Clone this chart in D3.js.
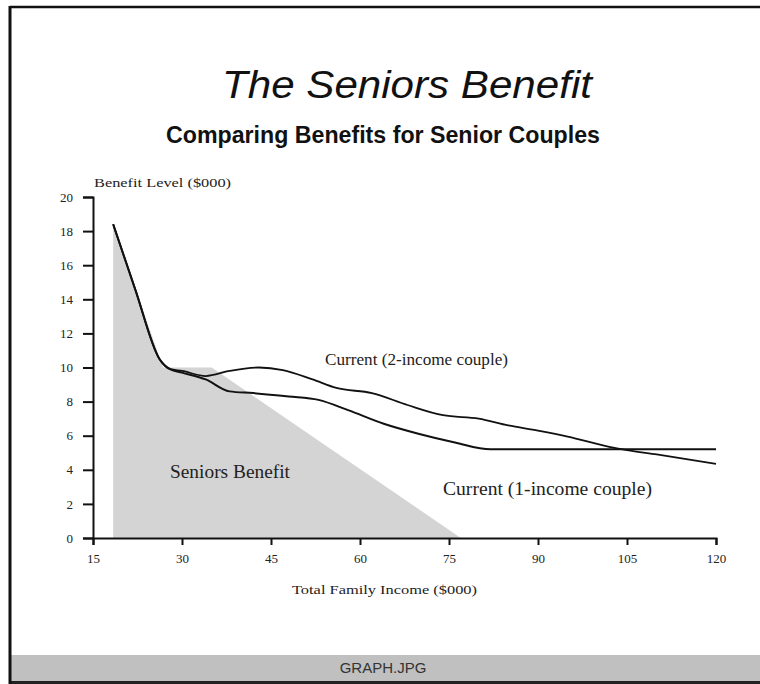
<!DOCTYPE html>
<html><head><meta charset="utf-8">
<script src="https://cdn.jsdelivr.net/npm/d3@7"></script>
<style>body{margin:0;background:#fff}svg{display:block}</style>
</head><body>
<svg id="c" width="760" height="684"></svg>
<script>
// ---- data ----
const xTicks = [15, 30, 45, 60, 75, 90, 105, 120];
const yTicks = [0, 2, 4, 6, 8, 10, 12, 14, 16, 18, 20];
const seniorsIncome = [18.4, 18.4, 26.8, 35, 77];
const seniorsBenefit = [0, 18.4, 10, 10, 0];
const twoIncomeX = [18.4, 22.1, 26.2, 28, 30, 34, 38, 43, 47, 52, 56, 62, 68, 74, 80, 85, 90, 95, 102, 105, 110, 120];
const twoIncomeY = [18.4, 14.6, 10.5, 9.9, 9.8, 9.5, 9.8, 10.0, 9.85, 9.3, 8.8, 8.5, 7.8, 7.2, 7.0, 6.6, 6.3, 5.95, 5.35, 5.15, 4.9, 4.35];
const oneIncomeX = [18.4, 22.1, 26.2, 28, 30, 34, 38, 42, 48, 53, 58, 64, 70, 76, 82, 120];
const oneIncomeY = [18.4, 14.6, 10.5, 9.9, 9.7, 9.3, 8.6, 8.5, 8.3, 8.1, 7.5, 6.7, 6.1, 5.6, 5.2, 5.2];

const svg = d3.select("#c");
const x = d3.scaleLinear().domain([15, 120]).range([93, 716]);
const y = d3.scaleLinear().domain([0, 20]).range([538, 197]);
const serif = "'Liberation Serif','Times New Roman',serif";
const sans = "'Liberation Sans',Arial,sans-serif";

// frame
svg.append("rect").attr("x", 0).attr("y", 0).attr("width", 760).attr("height", 684).attr("fill", "#fff");
svg.append("rect").attr("x", 10).attr("y", 655).attr("width", 750).attr("height", 26).attr("fill", "#c0c0c0");
svg.append("line").attr("x1", 10).attr("x2", 760).attr("y1", 682.5).attr("y2", 682.5).attr("stroke", "#222").attr("stroke-width", 3);
svg.append("line").attr("x1", 10).attr("x2", 10).attr("y1", 6).attr("y2", 684).attr("stroke", "#111").attr("stroke-width", 3);
svg.append("line").attr("x1", 10).attr("x2", 760).attr("y1", 7).attr("y2", 7).attr("stroke", "#111").attr("stroke-width", 2.5);
svg.append("text").attr("x", 383).attr("y", 673).attr("text-anchor", "middle")
  .attr("font-family", sans).attr("font-size", 15).attr("fill", "#333").text("GRAPH.JPG");

// titles
svg.append("text").attr("x", 222).attr("y", 98)
  .attr("font-family", sans).attr("font-style", "italic").attr("font-size", 39).attr("fill", "#111")
  .attr("textLength", 370).attr("lengthAdjust", "spacingAndGlyphs").text("The Seniors Benefit");
svg.append("text").attr("x", 166).attr("y", 143)
  .attr("font-family", sans).attr("font-weight", "bold").attr("font-size", 23).attr("fill", "#111")
  .attr("textLength", 434).attr("lengthAdjust", "spacingAndGlyphs").text("Comparing Benefits for Senior Couples");

// area
const pts = seniorsIncome.map((v, i) => [v, seniorsBenefit[i]]);
svg.append("path").attr("d", d3.line().x(d => x(d[0])).y(d => y(d[1]))(pts) + "Z")
  .attr("fill", "#d4d4d4");

// axes
const xAxis = svg.append("g").attr("transform", "translate(0,538)")
  .call(d3.axisBottom(x).tickValues(xTicks).tickSize(7).tickFormat(d3.format("d")));
const yAxis = svg.append("g").attr("transform", "translate(93,0)")
  .call(d3.axisLeft(y).tickValues(yTicks).tickSize(10).tickFormat(d3.format("d")));
[xAxis, yAxis].forEach(g => {
  g.select(".domain").attr("stroke", "#111").attr("stroke-width", 2);
  g.selectAll(".tick line").attr("stroke", "#111").attr("stroke-width", 2);
  g.selectAll(".tick text").attr("font-family", serif).attr("font-size", 13).attr("fill", "#222");
});
xAxis.selectAll(".tick text").attr("dy", "1.15em");
yAxis.selectAll(".tick text").attr("x", -20);

// lines
const line = d3.line().x(d => x(d[0])).y(d => y(d[1])).curve(d3.curveMonotoneX);
svg.append("path").attr("d", line(twoIncomeX.map((v, i) => [v, twoIncomeY[i]])))
  .attr("fill", "none").attr("stroke", "#111").attr("stroke-width", 1.8).attr("stroke-linejoin", "round");
svg.append("path").attr("d", line(oneIncomeX.map((v, i) => [v, oneIncomeY[i]])))
  .attr("fill", "none").attr("stroke", "#111").attr("stroke-width", 2).attr("stroke-linejoin", "round");

// labels
function label(txt, x0, y0, size, len) {
  svg.append("text").attr("x", x0).attr("y", y0).attr("font-family", serif).attr("font-size", size)
    .attr("fill", "#222").attr("textLength", len).attr("lengthAdjust", "spacingAndGlyphs").text(txt);
}
label("Benefit Level ($000)", 94, 187, 13, 137);
label("Total Family Income ($000)", 292, 594, 13, 185);
label("Current (2-income couple)", 325, 365, 17.5, 183);
label("Current (1-income couple)", 443, 495, 19, 209);
label("Seniors Benefit", 170, 478, 18, 120);
</script>
</body></html>
